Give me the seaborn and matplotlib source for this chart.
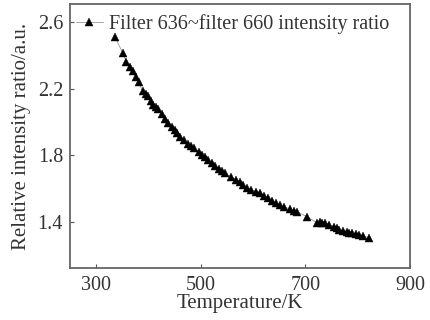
import matplotlib
matplotlib.use("Agg")
import matplotlib.pyplot as plt
import seaborn as sns
import pandas as pd

temperature = [336, 351, 358, 364, 370, 376, 381, 389, 395, 400, 405, 409, 414, 419, 425, 432, 438, 445, 450, 455, 461,
               468, 476, 481, 487, 496, 502, 508, 514, 521, 528, 534, 541, 547, 558, 568, 575, 581, 589, 596, 605,
               613, 621, 628, 636, 643, 652, 660, 670, 679, 684, 704, 722, 727, 732, 738, 746, 755, 760, 764, 772,
               779, 784, 789, 796, 802, 810, 821]
ratio = [2.510, 2.414, 2.359, 2.333, 2.305, 2.270, 2.239, 2.185, 2.170, 2.155, 2.125, 2.101, 2.090, 2.077, 2.045, 2.017,
         1.995, 1.968, 1.950, 1.932, 1.910, 1.890, 1.866, 1.855, 1.842, 1.818, 1.803, 1.788, 1.770, 1.752, 1.735,
         1.716, 1.703, 1.692, 1.668, 1.650, 1.635, 1.620, 1.603, 1.589, 1.580, 1.571, 1.556, 1.541, 1.525, 1.511,
         1.498, 1.487, 1.475, 1.463, 1.458, 1.427, 1.392, 1.395, 1.392, 1.391, 1.380, 1.367, 1.360, 1.349, 1.343,
         1.337, 1.333, 1.331, 1.325, 1.319, 1.312, 1.301]
series_label = "Filter 636~filter 660 intensity ratio"
x_ticks = [300, 500, 700, 900]
y_ticks = [1.4, 1.8, 2.2, 2.6]

df = pd.DataFrame({"Temperature": temperature, "Ratio": ratio})

sns.set_theme(style="white")
plt.rcParams["font.family"] = ["Liberation Serif", "DejaVu Serif"]

fig = plt.figure(figsize=(4.3, 3.2), dpi=100)
ax = fig.add_axes([70 / 430, 1 - 268 / 320, 340 / 430, 264 / 320])

sns.lineplot(data=df, x="Temperature", y="Ratio", ax=ax, color="#999999", linewidth=0.6,
             marker="^", markersize=5.5, markerfacecolor="black", markeredgecolor="black",
             markeredgewidth=0.3, label=series_label)

ax.set_xlim(250, 900)
ax.set_ylim(1.12, 2.71)
ax.set_xticks(x_ticks)
ax.set_yticks(y_ticks)
ax.set_yticklabels([f"{v:.1f}" for v in y_ticks])

ax.tick_params(direction="in", length=3, width=0.8, colors="#555555", labelsize=14.5,
               labelcolor="#333333", left=True, bottom=True)
ax.tick_params(axis="y", pad=5)
ax.tick_params(axis="x", pad=6)
for s in ax.spines.values():
    s.set_color("#666666")
    s.set_linewidth(1.3)
    s.set_visible(True)

ax.set_xlabel("Temperature/K", fontsize=15, color="#333333", labelpad=-1)
ax.set_ylabel("Relative intensity ratio/a.u.", fontsize=15, color="#333333", labelpad=5)

leg = ax.legend(loc="upper left", frameon=False, fontsize=14.5, handlelength=1.3, handletextpad=0.3,
                borderaxespad=0.0, bbox_to_anchor=(-0.005, 0.992))
for t in leg.get_texts():
    t.set_color("#333333")

fig.savefig("out.png", dpi=100)
